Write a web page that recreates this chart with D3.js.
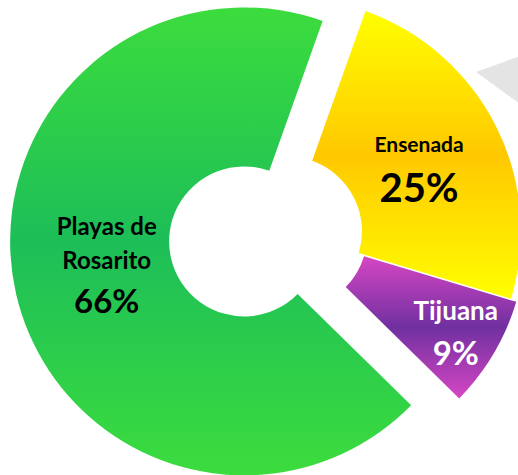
<!DOCTYPE html>
<html>
<head>
<meta charset="utf-8">
<script src="https://cdn.jsdelivr.net/npm/d3@7"></script>
<style>
  html, body { margin: 0; padding: 0; background: #fff; }
  svg { display: block; }
  text { font-family: Lato, "Open Sans", sans-serif; font-weight: bold; }
</style>
</head>
<body>
<div id="chart"></div>
<script>
// ---- data ----
const categories = ["Ensenada", "Tijuana", "Playas de Rosarito"];
const nameLines  = [["Ensenada"], ["Tijuana"], ["Playas de", "Rosarito"]];
const pctLabels  = ["25%", "9%", "66%"];
const shares     = [24.2, 7.7, 68.1];   // slice shares as drawn

// ---- styling / layout ----
const W = 518, H = 475;
const cx = 287, cy = 231.5;
const innerR = 75, outerR = 234;
const startDeg = 19.6;
const explode = [0, 6, 44];
const labelR  = [148, 190, 141];
const nameSize = [21, 26, 24];
const pctSize  = [40, 33, 33];
const nameDy   = [[-13], [-11], [-38, -4]];
const pctDy    = [37, 34, 40];
const textColor = ["#000", "#fff", "#000"];
const gradStops = [
  ["#FFFF00", "#FFC800", "#FFFF00"],
  ["#D646C4", "#7030A0", "#D646C4"],
  ["#3CDC3E", "#1DBE58", "#3CDC3E"]
];

const svg = d3.select("#chart").append("svg")
  .attr("width", W).attr("height", H);

const defs = svg.append("defs");
gradStops.forEach((st, i) => {
  const g = defs.append("linearGradient")
    .attr("id", "g" + i)
    .attr("x1", 0).attr("y1", 0).attr("x2", 0).attr("y2", 1);
  g.append("stop").attr("offset", "0%").attr("stop-color", st[0]);
  g.append("stop").attr("offset", "50%").attr("stop-color", st[1]);
  g.append("stop").attr("offset", "100%").attr("stop-color", st[2]);
});

// decorative grey pointer at top right
svg.append("path")
  .attr("d", "M476,72 L520,56 L520,104 Z")
  .attr("fill", "#E4E4E4");

const a0 = startDeg * Math.PI / 180;
const pie = d3.pie().sort(null).value(d => d)
  .startAngle(a0).endAngle(a0 + 2 * Math.PI);
const arcs = pie(shares);
const arc = d3.arc().innerRadius(innerR).outerRadius(outerR);

const slices = svg.selectAll("g.slice").data(arcs).enter().append("g")
  .attr("class", "slice")
  .attr("transform", (d, i) => {
    const m = (d.startAngle + d.endAngle) / 2;
    const x = cx + explode[i] * Math.sin(m);
    const y = cy - explode[i] * Math.cos(m);
    return `translate(${x},${y})`;
  });

slices.append("path")
  .attr("d", arc)
  .attr("fill", (d, i) => `url(#g${i})`);

slices.each(function(d, i) {
  const m = (d.startAngle + d.endAngle) / 2;
  const lx = labelR[i] * Math.sin(m);
  const ly = -labelR[i] * Math.cos(m);
  const g = d3.select(this);
  nameLines[i].forEach((t, k) => {
    g.append("text")
      .attr("x", lx).attr("y", ly + nameDy[i][k])
      .attr("text-anchor", "middle")
      .attr("font-size", nameSize[i])
      .attr("fill", textColor[i])
      .text(t);
  });
  g.append("text")
    .attr("x", lx).attr("y", ly + pctDy[i])
    .attr("text-anchor", "middle")
    .attr("font-size", pctSize[i])
    .attr("fill", textColor[i])
    .text(pctLabels[i]);
});
</script>
</body>
</html>
